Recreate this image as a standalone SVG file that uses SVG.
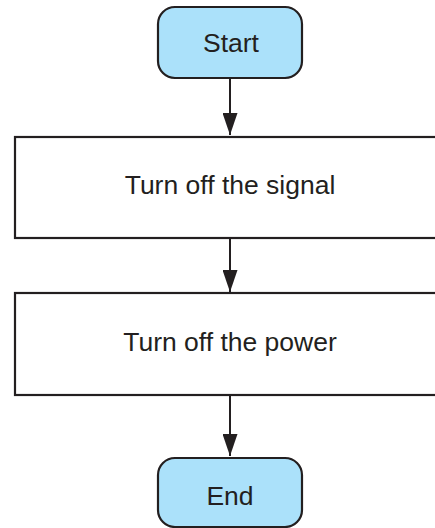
<svg xmlns="http://www.w3.org/2000/svg" width="435" height="528" viewBox="0 0 435 528">
<style>
.term{fill:#abe1fa;stroke:#231f20;stroke-width:2.2}
.proc{fill:#ffffff;stroke:#231f20;stroke-width:2.2}
.lbl{font-family:"Liberation Sans",Arial,sans-serif;font-size:26.5px;fill:#231f20;text-anchor:middle}
.edge{stroke:#231f20;stroke-width:2;fill:none}
</style>
<defs>
<marker id="arr" markerUnits="userSpaceOnUse" markerWidth="22" markerHeight="15" refX="22" refY="7.5" orient="auto" viewBox="0 0 22 15">
<path d="M0,0 L22,7.5 L0,15 z" fill="#231f20"/>
</marker>
</defs>
<rect width="435" height="528" fill="#ffffff"/>
<g id="connectors">
<path class="edge" d="M230,78 V135" marker-end="url(#arr)"/>
<path class="edge" d="M230,238 V292" marker-end="url(#arr)"/>
<path class="edge" d="M230,396 V456" marker-end="url(#arr)"/>
</g>
<g id="start">
<rect class="term" x="158" y="7" width="144" height="71" rx="17"/>
<text class="lbl" x="231" y="52">Start</text>
</g>
<g id="signal">
<rect class="proc" x="15" y="137" width="430" height="101"/>
<text class="lbl" x="230" y="194">Turn off the signal</text>
</g>
<g id="power">
<rect class="proc" x="15" y="293" width="430" height="102"/>
<text class="lbl" x="230" y="351">Turn off the power</text>
</g>
<g id="end">
<rect class="term" x="158" y="458" width="144" height="69" rx="17"/>
<text class="lbl" x="230" y="505">End</text>
</g>
</svg>
